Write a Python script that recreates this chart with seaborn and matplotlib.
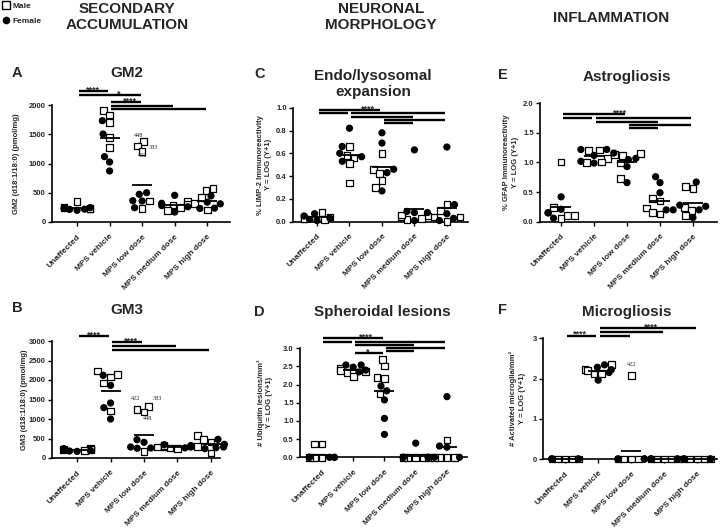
import warnings
warnings.filterwarnings("ignore")
import numpy as np
import pandas as pd
import matplotlib
matplotlib.use("Agg")
import matplotlib.pyplot as plt
import seaborn as sns
from matplotlib.markers import MarkerStyle
from matplotlib.transforms import Affine2D
from matplotlib.lines import Line2D
from matplotlib.ticker import FormatStrFormatter

sns.set_style("ticks")
plt.rcParams["font.family"] = ["Liberation Sans", "DejaVu Sans"]

# ---------------- data ----------------
groups = ["Unaffected", "MPS vehicle", "MPS low dose", "MPS medium dose", "MPS high dose"]
sexes = ["Male", "Female"]

gm2_male = [[356, 254, 232, 240, 225], [1903, 1829, 1698, 1441, 1276], [1373, 1299, 1202, 359, 234],
            [360, 310, 290, 250, 195], [576, 537, 424, 311, 203]]
gm2_female = [[230, 215, 220, 245, 200], [1732, 1504, 1117, 1026, 872], [501, 473, 359, 364, 244],
              [456, 320, 280, 260, 170], [446, 339, 237, 232, 311]]

gm3_male = [[260, 220, 210, 230, 190], [2137, 2077, 1923, 2231, 1205], [1325, 1179, 1248, 282, 171],
            [300, 280, 260, 250, 320], [573, 470, 410, 128, 300]]
gm3_female = [[200, 170, 180, 240, 190], [2120, 1863, 1410, 1291, 1000], [470, 402, 256, 282, 250],
              [340, 300, 280, 260, 320], [479, 282, 265, 350, 240]]

limp2_male = [[0.08, 0.04, 0.03, 0.03, 0.02], [0.66, 0.58, 0.56, 0.51, 0.34], [0.60, 0.46, 0.42, 0.36, 0.30],
              [0.05, 0.04, 0.03, 0.02, 0.06], [0.15, 0.10, 0.04, 0.04, 0.0]]
limp2_female = [[0.07, 0.05, 0.02, 0.01, 0.03], [0.82, 0.66, 0.60, 0.57, 0.53], [0.78, 0.69, 0.46, 0.43, 0.27],
                [0.63, 0.08, 0.09, 0.08, 0.01], [0.655, 0.15, 0.07, 0.03, 0.01]]

ubq_male = [[0.37, 0.37, 0, 0, 0], [2.44, 2.38, 2.33, 2.22, 2.36], [2.70, 2.51, 2.17, 2.19, 1.74],
            [0, 0, 0, 0, 0], [0.48, 0, 0, 0, 0]]
ubq_female = [[0, 0, 0, 0, 0], [2.54, 2.54, 2.48, 2.40, 2.35], [1.96, 1.83, 1.58, 1.07, 0.63],
              [0.39, 0, 0, 0, 0], [1.67, 0.31, 0.28, 0, 0]]

gfap_male = [[1.01, 0.24, 0.11, 0.11, 0.05], [1.21, 1.20, 1.07, 1.01, 1.00], [1.15, 1.14, 1.12, 0.99, 0.73],
             [0.39, 0.35, 0.23, 0.15, 0.13], [0.60, 0.56, 0.24, 0.19, 0.10]]
gfap_female = [[0.42, 0.21, 0.15, 0.15, 0.06], [1.22, 1.22, 1.12, 1.02, 0.99], [1.16, 1.07, 0.93, 0.66, 1.05],
               [0.76, 0.66, 0.49, 0.20, 0.20], [0.67, 0.28, 0.26, 0.20, 0.07]]

micro_male = [[0, 0, 0, 0, 0], [2.35, 2.23, 2.20, 2.13, 2.11], [2.08, 0, 0, 0, 0],
              [0, 0, 0, 0, 0], [0, 0, 0, 0, 0]]
micro_female = [[0, 0, 0, 0, 0], [2.34, 2.28, 2.15, 2.22, 1.96], [0, 0, 0, 0, 0],
                [0, 0, 0, 0, 0], [0, 0, 0, 0, 0]]

# ---------------- figure ----------------
W, H = 724, 530
fig = plt.figure(figsize=(W / 100, H / 100), dpi=100)


def fx(x):
    return x / W


def fy(y):
    return 1 - y / H


def marker_path(m, scale=1.0):
    ms = MarkerStyle(m)
    return ms.get_path().transformed(ms.get_transform() + Affine2D().scale(scale))


SQ = marker_path("s", 1.12)
CI = marker_path("o", 1.0)


def make_df(male, female):
    rows = []
    for g, m, f in zip(groups, male, female):
        for v in m:
            rows.append((g, "Male", v))
        for v in f:
            rows.append((g, "Female", v))
    return pd.DataFrame(rows, columns=["group", "sex", "value"])


def draw_panel(rect, xlim, male, female, ymax, yticks, fmt, ylabel, ylabel_x,
               tiers, sigs, notes=()):
    ax = fig.add_axes(rect)
    df = make_df(male, female)
    n0 = len(ax.collections)
    sns.swarmplot(data=df, x="group", y="value", hue="sex", order=groups, hue_order=sexes,
                  palette={"Male": "white", "Female": "black"}, size=4.3,
                  edgecolor="black", linewidth=0.9, legend=False, warn_thresh=1,
                  clip_on=False, ax=ax)
    for coll in ax.collections[n0:]:
        offs = coll.get_offsets()
        if len(offs) == 0:
            continue
        gi = int(round(offs[0, 0]))
        sx = df[df["group"] == groups[gi]]["sex"].tolist()
        coll.set_paths([SQ if s == "Male" else CI for s in sx])
        coll.set_edgecolor("black")
        coll.set_linewidth(0.9)
        coll.set_clip_on(False)
    sns.pointplot(data=df, x="group", y="value", order=groups, estimator="mean",
                  errorbar=None, markers="_", linestyles="none", color="black",
                  markersize=15, markeredgewidth=1.3, zorder=5, ax=ax)

    ax.set_xlim(*xlim)
    ax.set_ylim(0, ymax)
    ax.set_yticks(yticks)
    ax.yaxis.set_major_formatter(FormatStrFormatter(fmt))
    ax.set_xticks(range(len(groups)))
    ax.set_xticklabels(groups, rotation=45, ha="right", rotation_mode="anchor",
                       fontsize=6, fontweight="bold")
    for t in ax.get_yticklabels():
        t.set_fontsize(5.5)
        t.set_fontweight("bold")
    ax.tick_params(axis="both", length=3, width=1.0, color="black")
    ax.tick_params(axis="x", pad=5)
    ax.tick_params(axis="y", pad=1.5)
    ax.set_xlabel("")
    ax.set_ylabel(ylabel, fontsize=5.5, fontweight="bold", linespacing=1.3)
    ax.yaxis.set_label_coords(ylabel_x, 0.5)
    sns.despine(ax=ax)
    for s in ("left", "bottom"):
        ax.spines[s].set_linewidth(1.2)
        ax.spines[s].set_color("black")

    tr = ax.get_xaxis_transform()
    for (i, j, tier, label, lx) in sigs:
        y = tiers[tier]
        ax.plot([i + 0.05, j - 0.05], [y, y], transform=tr, color="black", lw=1.7,
                clip_on=False, solid_capstyle="butt", zorder=6)
        if label:
            ax.annotate(label, xy=(lx, y), xycoords=tr, xytext=(0, 0.8),
                        textcoords="offset points", ha="center", va="center",
                        fontsize=6.5, fontweight="bold", annotation_clip=False)
    for (txt, x, y) in notes:
        ax.text(x, y, txt, fontsize=4.5, family="Liberation Serif", ha="center",
                va="center", clip_on=False)
    return ax


# A  GM2
draw_panel([fx(52), fy(222), (230 - 52) / W, (222 - 105) / H], (-0.77, 4.7),
           gm2_male, gm2_female, 2000, [0, 500, 1000, 1500, 2000], "%d",
           "GM2 (d18:1/18:0) (pmol/mg)", -0.18,
           [1.12, 1.085, 1.026, 0.991, 0.966],
           [(0, 1, 0, "****", 0.5), (0, 2, 1, "*", 1.28), (1, 2, 2, "****", 1.64),
            (1, 3, 3, "", 0), (1, 4, 4, "", 0)],
           [("448", 1.88, 1487), ("383", 2.34, 1282), ("422", 2.03, 1145)])

# B  GM3
draw_panel([fx(52), fy(458), (220 - 52) / W, (458 - 341) / H], (-0.75, 4.27),
           gm3_male, gm3_female, 3000, [0, 500, 1000, 1500, 2000, 2500, 3000], "%d",
           "GM3 (d18:1/18:0) (pmol/mg)", -0.14,
           [1.043, 0.994, 0.96, 0.926],
           [(0, 1, 0, "****", 0.5), (1, 2, 1, "****", 1.6), (1, 3, 2, "", 0),
            (1, 4, 3, "", 0)],
           [("422", 1.76, 1538), ("383", 2.39, 1513), ("448", 2.12, 1000)])

# C  LIMP-2
draw_panel([fx(293), fy(221.7), (468 - 293) / W, (221.7 - 107.7) / H], (-0.74, 4.65),
           limp2_male, limp2_female, 1.0, [0, 0.2, 0.4, 0.6, 0.8, 1.0], "%.1f",
           "% LIMP-2 Immunoreactivity\nY = LOG (Y+1)", -0.12,
           [0.98, 0.951, 0.921, 0.892, 0.863],
           [(0, 2, 0, "****", 1.57), (0, 1, 1, "", 0), (1, 4, 1, "", 0),
            (1, 3, 2, "", 0), (2, 4, 3, "", 0), (2, 3, 4, "", 0)])

# D  Ubiquitin
draw_panel([fx(300), fy(457.3), (467 - 300) / W, (457.3 - 348.3) / H], (-0.7, 4.64),
           ubq_male, ubq_female, 3.0, [0, 0.5, 1.0, 1.5, 2.0, 2.5, 3.0], "%.1f",
           "# Ubiquitin lesions/mm²\nY = LOG (Y+1)", -0.16,
           [1.092, 1.061, 1.03, 1.0, 0.975, 0.954],
           [(0, 2, 0, "****", 1.4), (0, 1, 1, "", 0), (1, 4, 1, "", 0),
            (1, 3, 2, "", 0), (2, 4, 3, "", 0), (2, 3, 4, "", 0),
            (1, 2, 5, "*", 1.47)])

# E  GFAP
draw_panel([fx(540), fy(221.7), (717 - 540) / W, (221.7 - 103.3) / H], (-0.64, 4.73),
           gfap_male, gfap_female, 2.0, [0, 0.5, 1.0, 1.5, 2.0], "%.1f",
           "% GFAP Immunoreactivity\nY = LOG (Y+1)", -0.12,
           [0.907, 0.878, 0.845, 0.817, 0.789],
           [(0, 2, 0, "****", 1.79), (0, 1, 1, "", 0), (1, 4, 1, "", 0),
            (1, 3, 2, "", 0), (2, 4, 3, "", 0), (2, 3, 4, "", 0)])

# F  Microglia
draw_panel([fx(543), fy(459), (717 - 543) / W, (459 - 338.3) / H], (-0.67, 4.6),
           micro_male, micro_female, 3, [0, 1, 2, 3], "%d",
           "# Activated microglia/mm²\nY = LOG (Y+1)", -0.1,
           [1.083, 1.05, 1.022],
           [(0, 1, 2, "****", 0.45), (1, 4, 0, "****", 2.6), (1, 3, 1, "", 0),
            (1, 2, 2, "", 0)],
           [("422", 2.0, 2.34)])

# ---------------- titles ----------------
hdr = dict(fontsize=11, fontweight="bold", ha="center", va="center", linespacing=1.2)
fig.text(fx(127), fy(17), "SECONDARY\nACCUMULATION", **hdr)
fig.text(fx(381), fy(17), "NEURONAL\nMORPHOLOGY", **hdr)
fig.text(fx(611), fy(18), "INFLAMMATION", **hdr)

ttl = dict(fontsize=11, fontweight="bold", ha="center", va="center", linespacing=1.2)
let = dict(fontsize=10.5, fontweight="bold", ha="left", va="center")
fig.text(fx(12), fy(73), "A", **let)
fig.text(fx(127), fy(73), "GM2", **ttl)
fig.text(fx(12), fy(308), "B", **let)
fig.text(fx(127), fy(310), "GM3", **ttl)
fig.text(fx(254), fy(74), "C", **let)
fig.text(fx(373), fy(84), "Endo/lysosomal\nexpansion", **ttl)
fig.text(fx(254), fy(312), "D", **let)
fig.text(fx(382), fy(312), "Spheroidal lesions", **ttl)
fig.text(fx(498), fy(75), "E", **let)
fig.text(fx(627), fy(77), "Astrogliosis", **ttl)
fig.text(fx(498), fy(310), "F", **let)
fig.text(fx(627), fy(312), "Microgliosis", **ttl)

handles = [Line2D([], [], marker="s", ms=5.5, mfc="white", mec="black", mew=1.0, ls="none"),
           Line2D([], [], marker="o", ms=4.5, mfc="black", mec="black", ls="none")]
fig.legend(handles, sexes, loc="upper left", bbox_to_anchor=(0.0, 1.0), frameon=False,
           prop={"weight": "bold", "size": 6}, handlelength=0.8, handletextpad=0.4,
           labelspacing=0.8, borderpad=0.2, borderaxespad=0.1)

fig.savefig("out.png", dpi=100)
